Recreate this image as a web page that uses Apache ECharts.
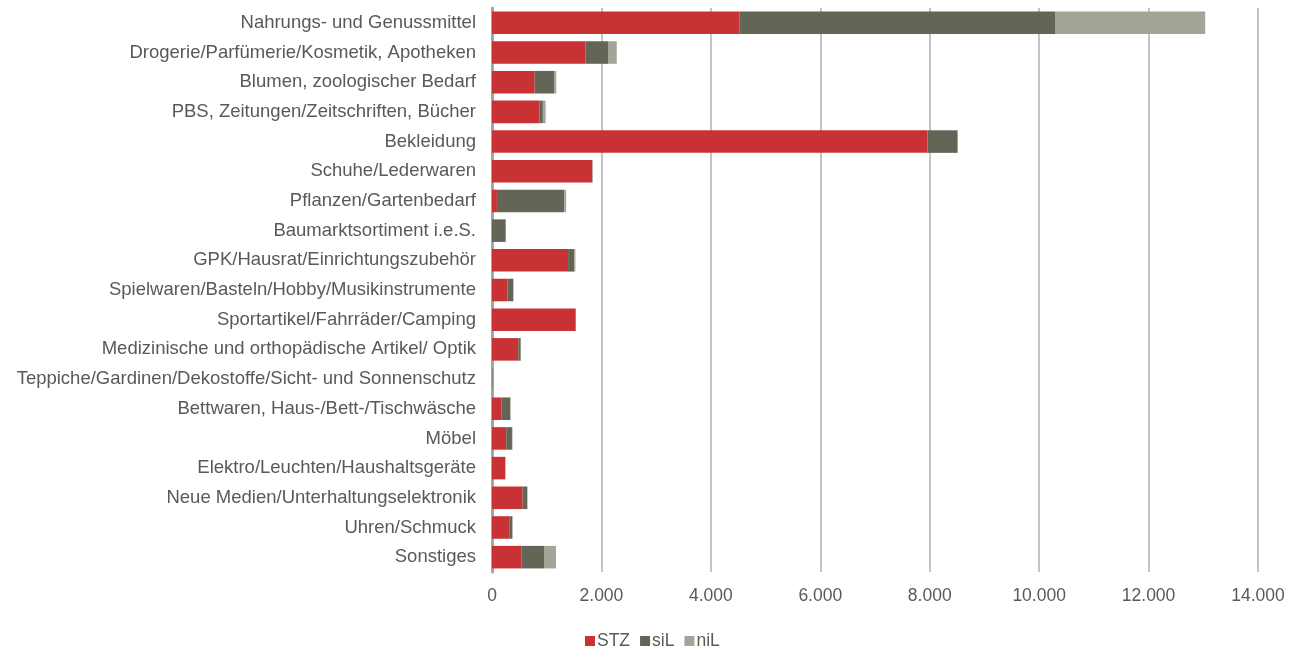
<!DOCTYPE html>
<html>
<head>
<meta charset="utf-8">
<script src="https://cdn.jsdelivr.net/npm/echarts@6/dist/echarts.min.js"></script>
<style>
  html, body { margin: 0; padding: 0; background: #fff; }
  #chart { width: 1296px; height: 650px; }
</style>
</head>
<body>
<div id="chart"></div>
<script>
// Sortimente (top to bottom)
const categories = [
  'Nahrungs- und Genussmittel',
  'Drogerie/Parfümerie/Kosmetik, Apotheken',
  'Blumen, zoologischer Bedarf',
  'PBS, Zeitungen/Zeitschriften, Bücher',
  'Bekleidung',
  'Schuhe/Lederwaren',
  'Pflanzen/Gartenbedarf',
  'Baumarktsortiment i.e.S.',
  'GPK/Hausrat/Einrichtungszubehör',
  'Spielwaren/Basteln/Hobby/Musikinstrumente',
  'Sportartikel/Fahrräder/Camping',
  'Medizinische und orthopädische Artikel/ Optik',
  'Teppiche/Gardinen/Dekostoffe/Sicht- und Sonnenschutz',
  'Bettwaren, Haus-/Bett-/Tischwäsche',
  'Möbel',
  'Elektro/Leuchten/Haushaltsgeräte',
  'Neue Medien/Unterhaltungselektronik',
  'Uhren/Schmuck',
  'Sonstiges'
];

const stz = [4520, 1710, 780, 865, 7960, 1835, 90, 0, 1390, 280, 1530, 480, 0, 170, 260, 240, 560, 315, 535];
const sil = [5770, 410, 355, 65, 550, 0, 1230, 250, 115, 105, 0, 45, 10, 165, 105, 0, 85, 55, 415];
const nil = [2745, 160, 40, 50, 0, 10, 35, 0, 20, 10, 0, 5, 5, 5, 10, 10, 5, 10, 220];

const xTicks = { min: 0, max: 14000, interval: 2000 };

const seriesNames = ['STZ', 'siL', 'niL'];
const seriesColors = ['#C83234', '#636657', '#A3A696'];
const seriesData = [stz, sil, nil];

// German thousands separator
const fmt = v => String(v).replace(/\B(?=(\d{3})+(?!\d))/g, '.');

const chart = echarts.init(document.getElementById('chart'), null, { renderer: 'canvas' });
chart.setOption({
  animation: false,
  textStyle: { fontFamily: 'Liberation Sans, Arial, sans-serif' },
  grid: { left: 492, right: 38, top: 8, bottom: 78, containLabel: false },
  legend: {
    data: seriesNames,
    top: 627,
    left: 580,
    itemWidth: 10,
    itemHeight: 10,
    itemGap: 10,
    icon: 'rect',
    textStyle: { fontSize: 17.5, color: '#595959', padding: [0, 0, 0, -3] }
  },
  xAxis: {
    type: 'value',
    min: xTicks.min,
    max: xTicks.max,
    interval: xTicks.interval,
    axisLine: { show: false },
    axisTick: { show: false },
    axisLabel: { fontSize: 17.5, color: '#595959', margin: 15, formatter: fmt },
    splitLine: { show: true, lineStyle: { color: '#C4C4C4', width: 2 } }
  },
  yAxis: {
    type: 'category',
    data: categories,
    inverse: true,
    axisLine: { show: true, lineStyle: { color: '#A6A6A6', width: 3 } },
    axisTick: { show: false },
    axisLabel: { fontSize: 18.5, color: '#595959', margin: 16 }
  },
  series: seriesNames.map((name, i) => ({
    name,
    type: 'bar',
    stack: 'total',
    data: seriesData[i],
    barCategoryGap: '24%',
    itemStyle: { color: seriesColors[i] }
  }))
});
</script>
</body>
</html>
